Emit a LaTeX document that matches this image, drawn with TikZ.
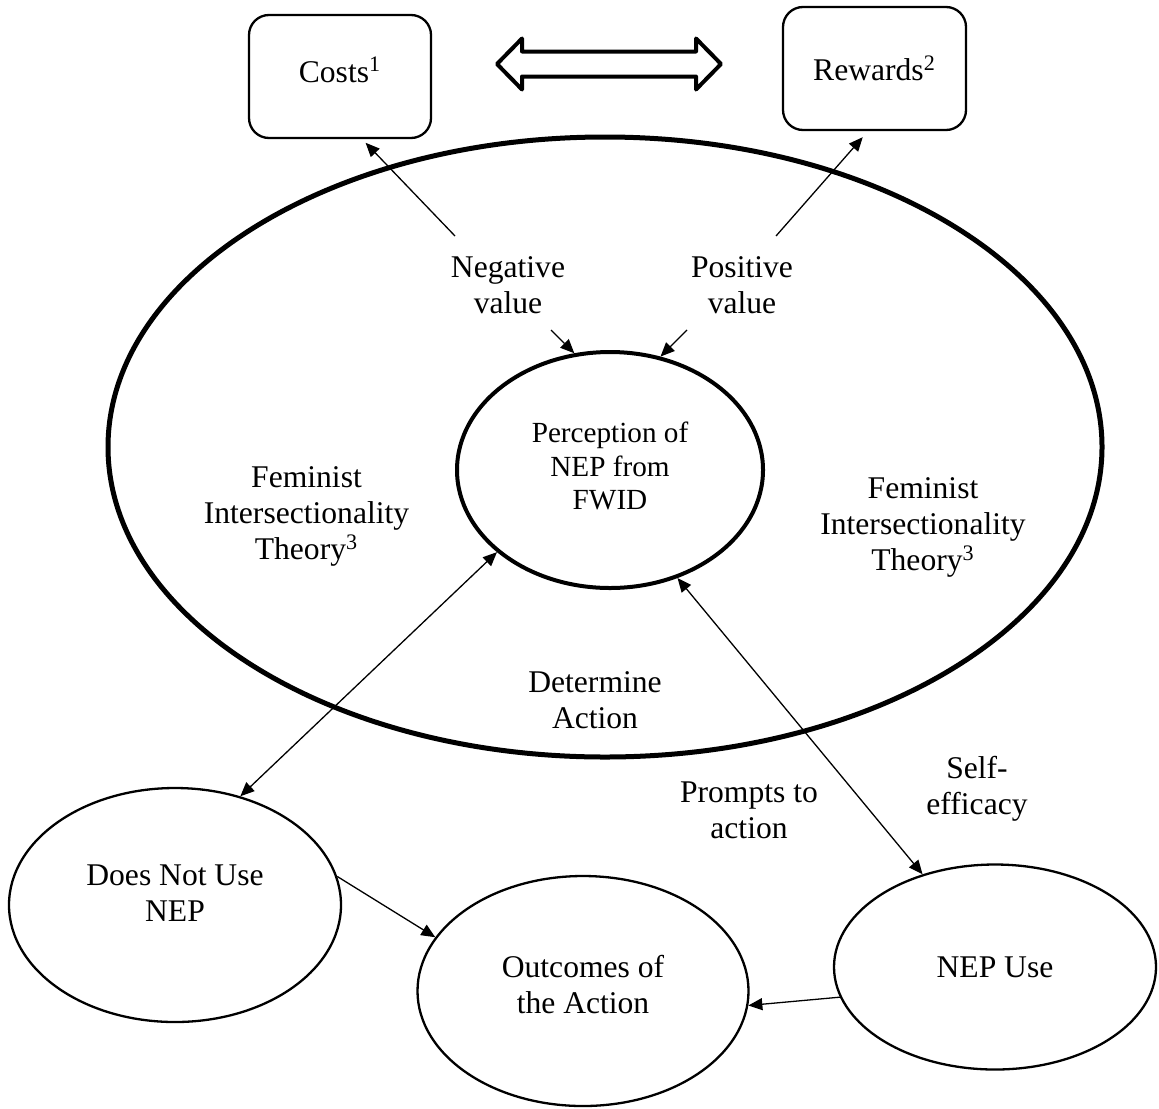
\documentclass[tikz,border=0pt]{standalone}
\usepackage{fontspec}
\setmainfont{Liberation Serif}
\usetikzlibrary{arrows.meta,shapes.geometric,calc}
\begin{document}
\begin{tikzpicture}[x=0.5pt,y=-0.5pt,
    every node/.style={font=\fontsize{15.8pt}{18pt}\selectfont},
    box/.style={draw,rounded corners=10pt,line width=1.15pt,minimum width=91pt,minimum height=61.5pt},
    ell/.style={draw,ellipse,line width=1.15pt,align=center},
    txt/.style={align=center,inner sep=0pt,anchor=north},
    arr/.style={-{Triangle[length=7pt,width=6pt]},line width=0.65pt},
    dbl/.style={{Triangle[length=7pt,width=6pt]}-{Triangle[length=7pt,width=6pt]},line width=0.65pt}]
    \useasboundingbox (0,0) rectangle (1159,1108);
    \node[draw,ellipse,line width=2.5pt,minimum width=497pt,minimum height=310pt] (frame) at (605,447) {};
    \node[box,text depth=7pt] (costs) at (340,76.5) {Costs\textsuperscript{1}};
    \node[box,minimum width=91.5pt] (rewards) at (874.5,68.5) {Rewards\textsuperscript{2}};
    \node[ell,line width=2pt,minimum width=153pt,minimum height=118pt,text depth=4pt,
        font=\fontsize{14.6pt}{16.75pt}\selectfont] (perc) at (610,470) {Perception of\\NEP from\\FWID};
    \node[ell,minimum width=166pt,minimum height=117pt,text depth=12pt] (nouse) at (175,905) {Does Not Use\\NEP};
    \node[ell,minimum width=165.5pt,minimum height=115pt,text depth=7pt] (outcome) at (583,991) {Outcomes of\\the Action};
    \node[ell,minimum width=161pt,minimum height=102.5pt] (use) at (995,967) {NEP Use};
    \node[txt] (neg) at (508,256.5) {Negative\\value};
    \node[txt] (pos) at (742,256.5) {Positive\\value};
    \node[txt] (theoryL) at (306.5,466.5) {Feminist\\Intersectionality\\Theory\textsuperscript{3}};
    \node[txt] (theoryR) at (923,477.5) {Feminist\\Intersectionality\\Theory\textsuperscript{3}};
    \node[txt] (determine) at (595,671.5) {Determine\\Action};
    \node[txt] (prompt) at (749,781) {Prompts to\\action};
    \node[txt] (efficacy) at (977,755.5) {Self-\\efficacy};
    \coordinate (negtail) at (455,236);
    \coordinate (postail) at (776,236);
    \coordinate (negfoot) at (551,330);
    \coordinate (posfoot) at (687,330);
    \draw[line width=2pt,line join=round] (497,64) -- (522,38.5) -- (522,51.5) -- (696,51.5) -- (696,38.5) -- (721,64)
        -- (696,89.5) -- (696,76.5) -- (522,76.5) -- (522,89.5) -- cycle;
    \draw[arr,shorten >=2.5pt] (negtail) -- ($(costs.south west)!0.62!(costs.south east)$);
    \draw[arr,shorten >=4pt] (postail) -- ($(rewards.south west)!0.465!(rewards.south east)$);
    \draw[arr] (negfoot) -- (perc.107);
    \draw[arr] (posfoot) -- (perc.66);
    \draw[dbl] (nouse.59) -- (perc.216);
    \draw[dbl] (perc.302) -- (use.128);
    \draw[arr] (nouse.10) -- (outcome.160);
    \draw[arr] (use.191) -- (outcome.355);
\end{tikzpicture}
\end{document}
